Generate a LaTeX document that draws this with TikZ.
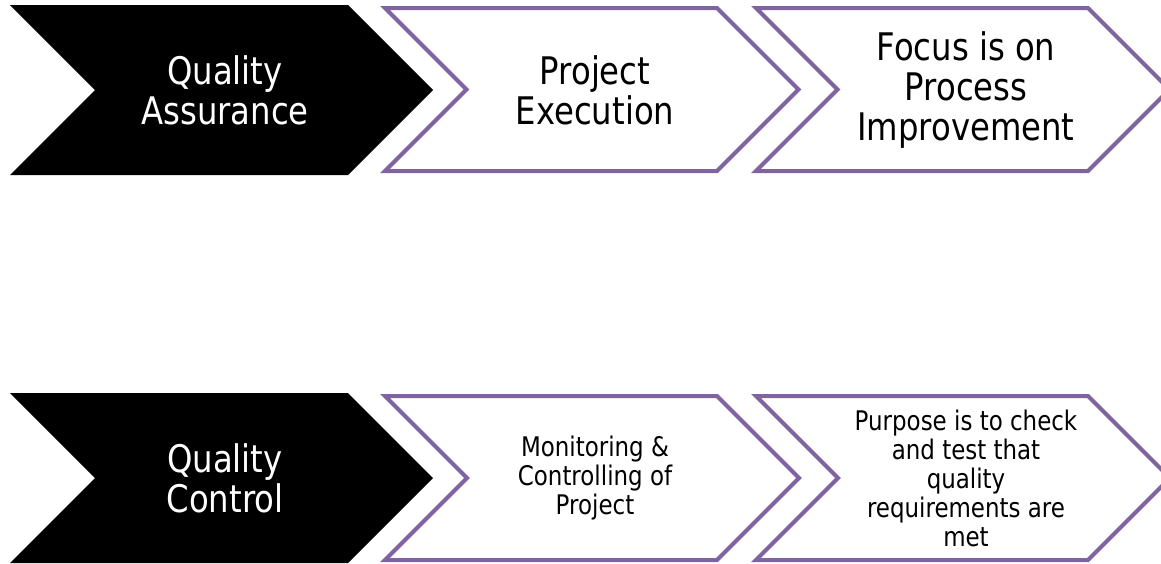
\documentclass[tikz,border=0pt]{standalone}
\usepackage{fontspec}
\setmainfont{DejaVu Sans}[FakeStretch=0.85]
\definecolor{qcpurple}{HTML}{8064A2}
\tikzset{
  chevdark/.style={fill=black},
  chevlight/.style={draw=qcpurple, line width=4pt, fill=white},
  bigtxt/.style={align=center, font=\fontsize{38}{40}\selectfont},
  smalltxt/.style={align=center, font=\fontsize{27}{29}\selectfont},
}
% chevron: style, left, top, body width, height
\newcommand{\chev}[5]{%
  \path[#1] (#2,#3) -- ++(#4,0) -- ++(#5/2,#5/2) -- ++(-#5/2,#5/2)
    -- ++(-#4,0) -- ++(#5/2,-#5/2) -- cycle;}
\begin{document}
\begin{tikzpicture}[x=1pt, y=-1pt]
    \clip (0,0) rectangle (1161,563);
    % Quality assurance row
    \chev{chevdark}{10}{5}{338}{170}
    \foreach \x in {385,756} \chev{chevlight}{\x}{8}{332}{163};
    \node[bigtxt, text=white] (qa) at (225,90) {Quality\\Assurance};
    \node[bigtxt] (pe) at (595,90) {Project\\Execution};
    \node[bigtxt] (fp) at (966,90) {Focus is on\\Process\\Improvement};
    % Quality control row
    \chev{chevdark}{10}{393}{338}{170}
    \foreach \x in {385,756} \chev{chevlight}{\x}{396}{332}{164};
    \node[bigtxt, text=white] (qc) at (225,478) {Quality\\Control};
    \node[smalltxt] (mc) at (595,478) {Monitoring \&\\Controlling of\\Project};
    \node[smalltxt] (pc) at (966,478) {Purpose is to check\\and test that\\quality\\requirements are\\met};
\end{tikzpicture}
\end{document}
